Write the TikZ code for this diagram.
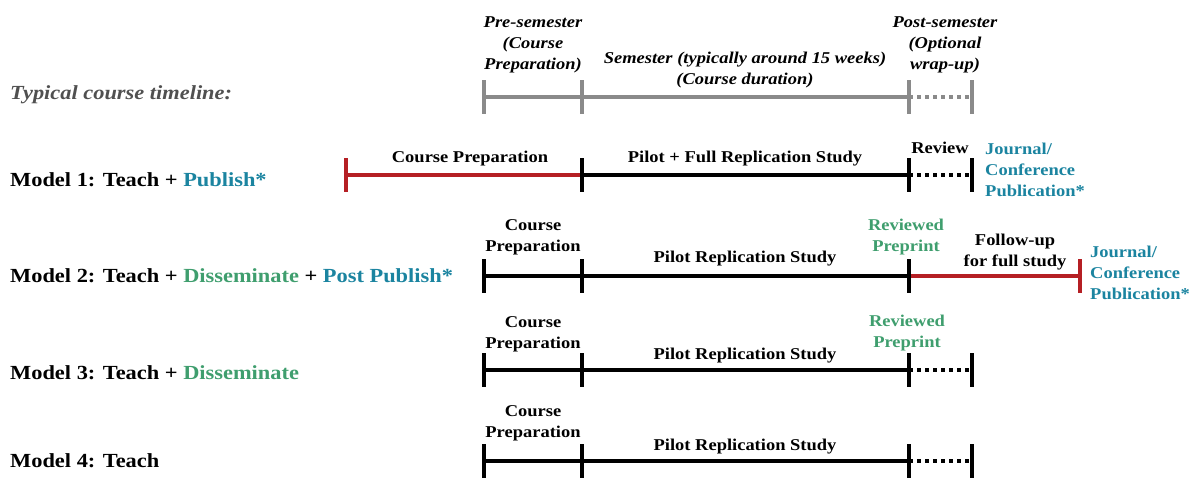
\documentclass[tikz,border=0pt]{standalone}
\usepackage{fontspec}
\setmainfont{Liberation Serif}[FakeStretch=1.12]
\usetikzlibrary{positioning}

\definecolor{pubteal}{HTML}{1B84A0}
\definecolor{dissgreen}{HTML}{3F9E6E}
\definecolor{prepred}{HTML}{B51F24}
\definecolor{tlgray}{HTML}{8A8A8A}
\definecolor{tltext}{HTML}{505050}

\tikzset{
  seg/.style={line width=4pt},
  dotseg/.style={line width=4pt, dash pattern=on 4pt off 4pt},
  tickmark/.style={line width=4pt},
  modellabel/.style={anchor=west, font=\fontsize{20}{22}\selectfont\bfseries, inner sep=0pt},
  phase/.style={align=center, font=\fontsize{16.5}{21}\selectfont\bfseries, inner sep=0pt},
  toplabel/.style={align=center, font=\fontsize{16.5}{21}\selectfont\bfseries\itshape, inner sep=0pt},
  pubnote/.style={anchor=west, align=left, text=pubteal, font=\fontsize{16.5}{21}\selectfont\bfseries, inner sep=0pt},
}
\newcommand{\tickat}[2][black]{\draw[tickmark, #1] ([yshift=17pt]#2) -- ([yshift=-17pt]#2);}

\begin{document}
\begin{tikzpicture}[x=1pt, y=-1pt]
  \useasboundingbox (0,0) rectangle (1195,479);

  % Typical course timeline
  \node (tl_lbl) [anchor=west, inner sep=0pt, text=tltext, font=\fontsize{20}{22}\selectfont\bfseries\itshape] at (10,95) {Typical course timeline:};
  \coordinate (t0) at (484,97);
  \coordinate (t1) at (582,97);
  \coordinate (t2) at (909,97);
  \coordinate (t3) at (972,97);
  \draw[seg, tlgray] (t0) -- (t1) -- (t2);
  \draw[dotseg, tlgray] (t2) -- (t3);
  \foreach \c in {t0,t1,t2,t3} {\tickat[tlgray]{\c}}
  \node (pre) [toplabel, anchor=south] at (533,73) {Pre-semester\\(Course\\Preparation)};
  \node (sem) [toplabel, anchor=south] at (745,88) {Semester (typically around 15 weeks)\\(Course duration)};
  \node (post) [toplabel, anchor=south] at (945,73) {Post-semester\\(Optional\\wrap-up)};

  % Model 1
  \node (m1_lbl) [modellabel] at (10,180) {Model 1: Teach + \textcolor{pubteal}{Publish*}};
  \coordinate (a0) at (346,175);
  \coordinate (a1) at (582,175);
  \coordinate (a2) at (909,175);
  \coordinate (a3) at (972,175);
  \draw[seg, prepred] (a0) -- (a1);
  \draw[seg] (a1) -- (a2);
  \draw[dotseg] (a2) -- (a3);
  \tickat[prepred]{a0}
  \foreach \c in {a1,a2,a3} {\tickat{\c}}
  \node (a_prep) [phase] at (470,159) {Course Preparation};
  \node (a_study) [phase] at (745,159) {Pilot + Full Replication Study};
  \node (a_rev) [phase] at (940,148) {Review};
  \node (a_pub) [pubnote] at (985,170) {Journal/\\Conference\\Publication*};

  % Model 2
  \node (m2_lbl) [modellabel] at (10,276) {Model 2: Teach + \textcolor{dissgreen}{Disseminate} + \textcolor{pubteal}{Post Publish*}};
  \coordinate (b0) at (484,276);
  \coordinate (b1) at (582,276);
  \coordinate (b2) at (909,276);
  \coordinate (b3) at (1080,276);
  \draw[seg] (b0) -- (b1) -- (b2);
  \draw[seg, prepred] (b2) -- (b3);
  \foreach \c in {b0,b1,b2} {\tickat{\c}}
  \tickat[prepred]{b3}
  \node (b_prep) [phase] at (533,237) {Course\\Preparation};
  \node (b_study) [phase] at (745,259) {Pilot Replication Study};
  \node (b_pre) [phase, text=dissgreen] at (906,237) {Reviewed\\Preprint};
  \node (b_follow) [phase] at (1015,252) {Follow-up\\for full study};
  \node (b_pub) [pubnote] at (1090,273) {Journal/\\Conference\\Publication*};

  % Model 3
  \node (m3_lbl) [modellabel] at (10,373) {Model 3: Teach + \textcolor{dissgreen}{Disseminate}};
  \coordinate (c0) at (484,370);
  \coordinate (c1) at (582,370);
  \coordinate (c2) at (909,370);
  \coordinate (c3) at (972,370);
  \draw[seg] (c0) -- (c1) -- (c2);
  \draw[dotseg] (c2) -- (c3);
  \foreach \c in {c0,c1,c2,c3} {\tickat{\c}}
  \node (c_prep) [phase] at (533,334) {Course\\Preparation};
  \node (c_study) [phase] at (745,356) {Pilot Replication Study};
  \node (c_pre) [phase, text=dissgreen] at (907,333) {Reviewed\\Preprint};

  % Model 4
  \node (m4_lbl) [modellabel] at (10,461) {Model 4: Teach};
  \coordinate (d0) at (484,461);
  \coordinate (d1) at (582,461);
  \coordinate (d2) at (909,461);
  \coordinate (d3) at (972,461);
  \draw[seg] (d0) -- (d1) -- (d2);
  \draw[dotseg] (d2) -- (d3);
  \foreach \c in {d0,d1,d2,d3} {\tickat{\c}}
  \node (d_prep) [phase] at (533,423) {Course\\Preparation};
  \node (d_study) [phase] at (745,447) {Pilot Replication Study};
\end{tikzpicture}
\end{document}
